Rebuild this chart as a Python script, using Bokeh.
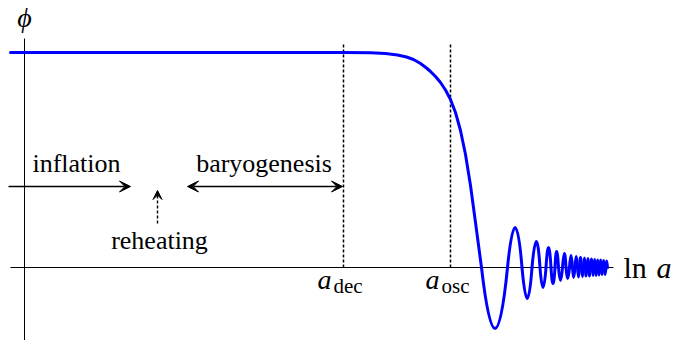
from bokeh.plotting import figure
from bokeh.models import ColumnDataSource, Range1d, Arrow, VeeHead
from bokeh.core.properties import value
from bokeh.embed import file_html
from bokeh.resources import INLINE

# ---- data (x = ln a, arbitrary units; phi = field value) ----
descent_x = [-14, 319, 346, 361, 373, 382, 389, 396, 402, 406, 411, 416, 421, 426, 431, 436, 441, 446, 451, 457]
descent_phi = [215, 215, 214.7, 214, 212.5, 210.5, 208, 204, 199.5, 196, 191, 185, 177.5, 168, 155, 137, 113, 82, 45, 0]

# oscillation: zero crossings and extrema between them
osc_zero_x = [457, 483, 497.5, 507.5, 515.5, 521.5, 526.5, 530.5, 534, 538, 541.5, 545, 548, 550.5,
              553, 555, 557, 559, 561, 562.5, 564.5, 566, 568, 569.5, 571, 572.5, 574, 575.5, 577,
              578.5, 580, 581.5, 583]
osc_ext_x = [471, 491, 503, 512, 518.5, 524, 528.5, 532, 536, 540, 543, 546.5, 549, 551.7, 554, 556,
             558, 560, 561.5, 563.5, 565, 567, 568.5, 570, 571.5, 573, 574.5, 576, 577.5, 579, 580.5, 582]
osc_ext_phi = [-61, 40, -31, 26, -20, 20, -16, 16, -13, 14, -11, 12, -10, 11, -9.5, 10, -9, 9.5, -8.5,
               9, -8.5, 8.5, -8, 8, -8, 7.5, -7.5, 7.5, -7, 7, -7, 6.5]

a_dec = 319
a_osc = 426
dash_top = 224

FONT = value("Liberation Serif")

p = figure(width=675, height=340, output_backend="svg", toolbar_location=None,
           x_range=Range1d(-24, 651), y_range=Range1d(-73, 267), min_border=0)
p.axis.visible = False
p.grid.visible = False
p.outline_line_color = None
p.background_fill_color = "white"
p.border_fill_color = "white"

# axes
p.segment(x0=[-14, 0], y0=[0, -75], x1=[589, 0], y1=[0, 229], line_color="black", line_width=1)

# dashed markers
p.segment(x0=[a_dec, a_osc], y0=[0, 0], x1=[a_dec, a_osc], y1=[dash_top, dash_top],
          line_color="black", line_width=1.5, line_dash="3 2")

# curve
p.line(descent_x, descent_phi, line_color="#0000ff", line_width=3, line_join="round", line_cap="round")
src = ColumnDataSource(dict(
    x0=osc_zero_x[:-1], x1=osc_zero_x[1:], y0=[0] * len(osc_ext_x), y1=[0] * len(osc_ext_x),
    cx=osc_ext_x, cy=[2 * v for v in osc_ext_phi]))
p.quadratic(x0="x0", y0="y0", x1="x1", y1="y1", cx="cx", cy="cy", source=src,
            line_color="#0000ff", line_width=3, line_cap="round")

# arrows
p.add_layout(Arrow(x_start=-16, y_start=81, x_end=106, y_end=81, line_width=1.3,
                   end=VeeHead(size=11, fill_color="black", line_color="black")))
p.add_layout(Arrow(x_start=163, y_start=81, x_end=318, y_end=81, line_width=1.3,
                   start=VeeHead(size=11, fill_color="black", line_color="black"),
                   end=VeeHead(size=11, fill_color="black", line_color="black")))
p.add_layout(Arrow(x_start=133, y_start=44, x_end=133, y_end=77, line_width=1.4, line_dash="3 2",
                   end=VeeHead(size=9, fill_color="black", line_color="black")))

# texts
p.text(x=[52, 239.5], y=[104, 104], text=["inflation", "baryogenesis"], text_font=FONT,
       text_font_size="26px", text_align="center", text_baseline="alphabetic", text_color="black")
p.text(x=[135], y=[27], text=["reheating"], text_font=FONT,
       text_font_size="26px", text_align="center", text_baseline="alphabetic", text_color="black")
p.text(x=[0], y=[250], text=["ϕ"], text_font=FONT, text_font_style="italic",
       text_font_size="28px", text_align="center", text_baseline="middle", text_color="black")
p.text(x=[599], y=[0], text=["ln"], text_font=FONT,
       text_font_size="30px", text_align="left", text_baseline="alphabetic", text_color="black")
p.text(x=[632], y=[0], text=["a"], text_font=FONT, text_font_style="italic",
       text_font_size="30px", text_align="left", text_baseline="alphabetic", text_color="black")
p.text(x=[a_dec - 26, a_osc - 25], y=[-12, -12], text=["a", "a"], text_font=FONT, text_font_style="italic",
       text_font_size="28px", text_align="left", text_baseline="alphabetic", text_color="black")
p.text(x=[a_dec - 10, a_osc - 9], y=[-18, -18], text=["dec", "osc"], text_font=FONT,
       text_font_size="21px", text_align="left", text_baseline="alphabetic", text_color="black")

open("out.html", "w").write(file_html(p, INLINE))
